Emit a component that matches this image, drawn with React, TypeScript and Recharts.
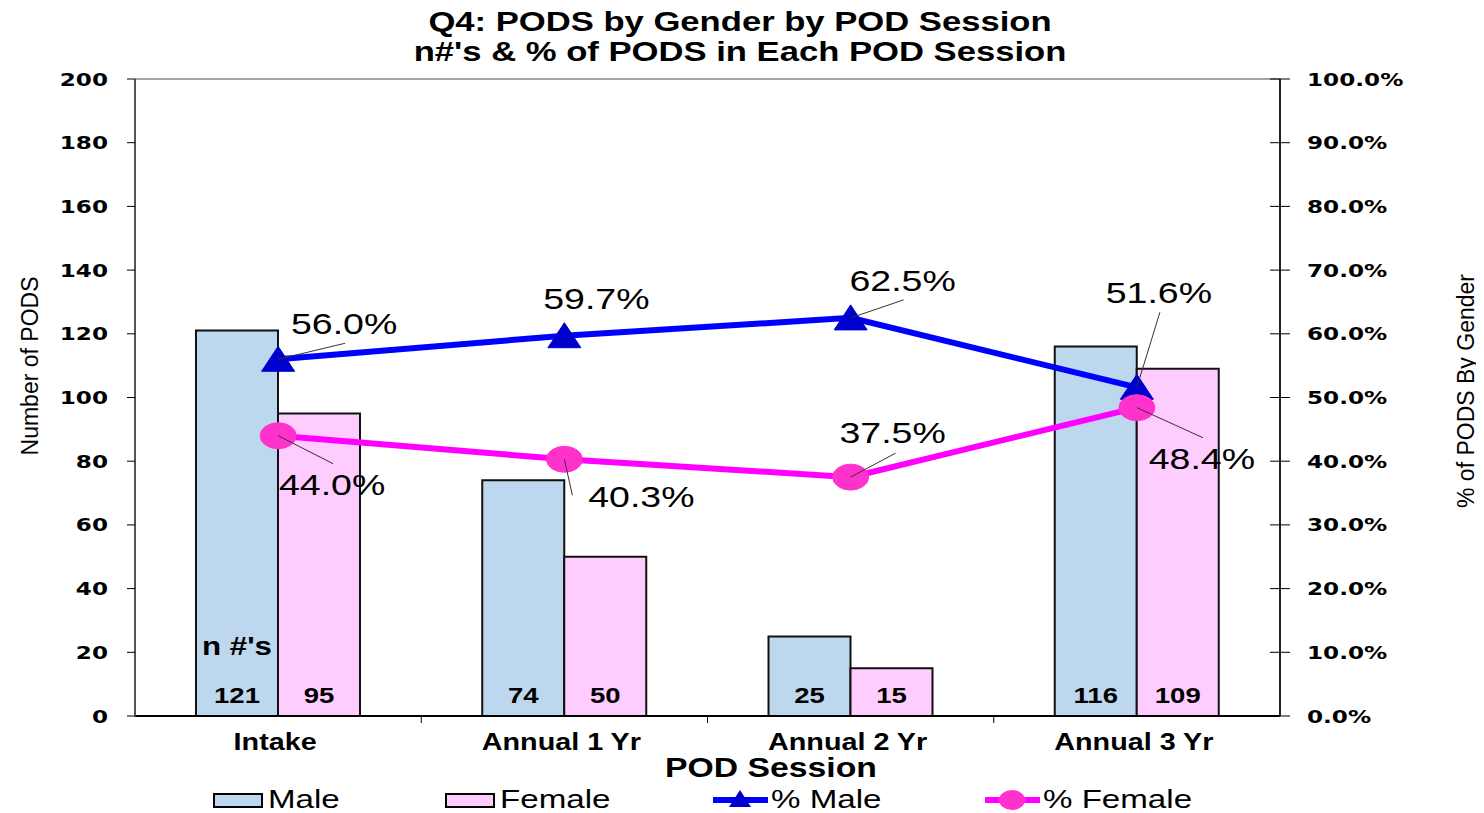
import React from 'react';
import { ComposedChart, Bar, Line, XAxis, YAxis, LabelList, ReferenceLine, Customized } from 'recharts';

const categories = ['Intake', 'Annual 1 Yr', 'Annual 2 Yr', 'Annual 3 Yr'];
const maleCounts = [121, 74, 25, 116];
const femaleCounts = [95, 50, 15, 109];
const malePct = [56.0, 59.7, 62.5, 51.6];
const femalePct = [44.0, 40.3, 37.5, 48.4];
const leftTicks = [0, 20, 40, 60, 80, 100, 120, 140, 160, 180, 200];
const rightTicks = [0, 10, 20, 30, 40, 50, 60, 70, 80, 90, 100];

const data = categories.map((c, i) => ({
  category: c,
  male: maleCounts[i],
  female: femaleCounts[i],
  malePct: malePct[i],
  femalePct: femalePct[i],
}));

// layout constants (page coordinates; the chart is placed at the page origin)
const W = 1484;
const H = 813;
const MARGIN = { top: 79, right: 54, bottom: 67, left: 35 };
const LEFT_W = 100;
const RIGHT_W = 150;
const X_H = 30;
const PLOT_W = W - MARGIN.left - MARGIN.right - LEFT_W - RIGHT_W;
const BAND = PLOT_W / categories.length;
const SX = 1.25;
const ARIAL = '"Liberation Sans", Arial, sans-serif';
const WIDE = '"DejaVu Sans", Verdana, sans-serif';

const MALE_FILL = '#BDD7EE';
const FEMALE_FILL = '#FFCCFF';
const MALE_LINE = '#0000FF';
const FEMALE_LINE = '#FF00FF';
const MALE_DOT = '#0000CC';
const FEMALE_DOT = '#FF33CC';

// label placement offsets relative to the point: [textDx, textDy, leaderDx, leaderDy]
const maleLabelOffsets: (number[])[] = [
  [66, -25, 67, -16],
  [32, -27, 0, 0],
  [52, -27, 53, -18],
  [22, -84, 23, -75],
];
const femaleLabelOffsets: (number[])[] = [
  [54, 59, 55, 28],
  [77, 48, 8, 36],
  [42, -34, 45, -24],
  [65, 61, 66, 30],
];

function SText(props: any) {
  const { x, y, anchor = 'middle', size, weight = 'normal', family = ARIAL, fill = '#000', children } = props;
  return (
    <text
      transform={`translate(${x},${y}) scale(${SX},1)`}
      textAnchor={anchor}
      fontSize={size}
      fontWeight={weight}
      fontFamily={family}
      fill={fill}
    >
      {children}
    </text>
  );
}

const LeftTick = (p: any) => (
  <SText x={p.x} y={p.y + 6.5} anchor="end" size={18.5} weight="bold" family={WIDE}>
    {p.payload.value}
  </SText>
);

const RightTick = (p: any) => {
  const axisX = p.x - 27;
  return (
    <g>
      <line x1={axisX - 10} x2={axisX + 10} y1={p.y} y2={p.y} stroke="#000" strokeWidth={1} />
      <SText x={p.x} y={p.y + 6.5} anchor="start" size={18.5} weight="bold" family={WIDE}>
        {`${Number(p.payload.value).toFixed(1)}%`}
      </SText>
    </g>
  );
};

const XTick = (p: any) => (
  <g>
    {p.index < categories.length - 1 && (
      <line x1={p.x + BAND / 2} x2={p.x + BAND / 2} y1={p.y} y2={p.y + 7} stroke="#000" strokeWidth={1} />
    )}
    <SText x={p.x - 3} y={p.y + 34} size={23} weight="bold">
      {p.payload.value}
    </SText>
  </g>
);

const makePctLabel = (offsets: number[][]) => (p: any) => {
  const { x, y, index, value } = p;
  const o = offsets[index];
  return (
    <g key={`lbl-${index}-${x}`}>
      {(o[2] !== 0 || o[3] !== 0) && (
        <line x1={x} y1={y} x2={x + o[2]} y2={y + o[3]} stroke="#333" strokeWidth={1} />
      )}
      <SText x={x + o[0]} y={y + o[1]} size={30}>
        {`${Number(value).toFixed(1)}%`}
      </SText>
    </g>
  );
};

const barCountLabel = (p: any) => {
  const { x, y, width, height, value } = p;
  return (
    <SText x={x + width / 2} y={y + height - 13} size={22} weight="bold">
      {value}
    </SText>
  );
};

// male bars: count label plus the "n #'s" caption above the first bar
const maleCountLabel = (p: any) => {
  const { x, y, width, height, index } = p;
  return (
    <g key={`mc-${index}`}>
      {barCountLabel(p)}
      {index === 0 && (
        <SText x={x + width / 2} y={y + height - 61} size={25} weight="bold">
          n #'s
        </SText>
      )}
    </g>
  );
};

const TriangleDot = (p: any) => {
  const { cx, cy, index } = p;
  return (
    <path
      key={`tri-${index}`}
      d={`M${cx},${cy - 13} L${cx + 16.5},${cy + 12} L${cx - 16.5},${cy + 12} Z`}
      fill={MALE_DOT}
      stroke={MALE_DOT}
    />
  );
};

const EllipseDot = (p: any) => {
  const { cx, cy, index } = p;
  return <ellipse key={`ell-${index}`} cx={cx} cy={cy} rx={18} ry={13} fill={FEMALE_DOT} stroke={FEMALE_DOT} />;
};

const Decorations = () => (
  <g>
    <SText x={740} y={31} size={27.7} weight="bold">Q4: PODS by Gender by POD Session</SText>
    <SText x={740} y={61} size={27.7} weight="bold">n#'s &amp; % of PODS in Each POD Session</SText>
    <text
      transform="translate(38,366) rotate(-90)"
      textAnchor="middle"
      fontSize={23}
      fontFamily={ARIAL}
      fill="#000"
    >
      Number of PODS
    </text>
    <text
      transform="translate(1474,391) rotate(-90)"
      textAnchor="middle"
      fontSize={23}
      fontFamily={ARIAL}
      fill="#000"
    >
      % of PODS By Gender
    </text>
    <SText x={771} y={777} size={27} weight="bold">POD Session</SText>
    {/* legend */}
    <rect x={214} y={794} width={48} height={13} fill={MALE_FILL} stroke="#000" strokeWidth={2} />
    <SText x={268} y={808} anchor="start" size={26.5}>Male</SText>
    <rect x={446} y={794} width={48} height={13} fill={FEMALE_FILL} stroke="#000" strokeWidth={2} />
    <SText x={500} y={808} anchor="start" size={26.5}>Female</SText>
    <line x1={713} x2={768} y1={800} y2={800} stroke={MALE_LINE} strokeWidth={6} />
    <path d="M740,790 L751,807 L729,807 Z" fill={MALE_DOT} />
    <SText x={771} y={808} anchor="start" size={26.5}>% Male</SText>
    <line x1={985} x2={1040} y1={800} y2={800} stroke={FEMALE_LINE} strokeWidth={6} />
    <ellipse cx={1012} cy={800} rx={13} ry={10} fill={FEMALE_DOT} />
    <SText x={1043} y={808} anchor="start" size={26.5}>% Female</SText>
  </g>
);

export default function App() {
  return (
    <div style={{ width: W, height: H, background: '#fff', marginTop: -8, marginLeft: -8 }}>
      <ComposedChart width={W} height={H} data={data} margin={MARGIN} barGap={0} barSize={82}>
        <XAxis
          dataKey="category"
          height={X_H}
          axisLine={{ stroke: '#000', strokeWidth: 2 }}
          tickLine={false}
          tickSize={0}
          tickMargin={0}
          tick={<XTick />}
          interval={0}
        />
        <YAxis
          yAxisId="left"
          orientation="left"
          width={LEFT_W}
          domain={[0, 200]}
          ticks={leftTicks}
          interval={0}
          axisLine={{ stroke: '#555', strokeWidth: 2 }}
          tickLine={{ stroke: '#000' }}
          tickSize={8}
          tickMargin={19}
          tick={<LeftTick />}
        />
        <YAxis
          yAxisId="right"
          orientation="right"
          width={RIGHT_W}
          domain={[0, 100]}
          ticks={rightTicks}
          interval={0}
          axisLine={{ stroke: '#222', strokeWidth: 2 }}
          tickLine={false}
          tickSize={10}
          tickMargin={17}
          tick={<RightTick />}
        />
        <ReferenceLine yAxisId="left" y={200} stroke="#888" strokeWidth={1.5} />
        <Bar yAxisId="left" dataKey="male" fill={MALE_FILL} stroke="#111" strokeWidth={2} isAnimationActive={false}>
          <LabelList dataKey="male" content={maleCountLabel} />
        </Bar>
        <Bar yAxisId="left" dataKey="female" fill={FEMALE_FILL} stroke="#111" strokeWidth={2} isAnimationActive={false}>
          <LabelList dataKey="female" content={barCountLabel} />
        </Bar>
        <Line
          yAxisId="right"
          type="linear"
          dataKey="malePct"
          stroke={MALE_LINE}
          strokeWidth={6}
          dot={TriangleDot}
          activeDot={false}
          isAnimationActive={false}
        >
          <LabelList dataKey="malePct" content={makePctLabel(maleLabelOffsets)} />
        </Line>
        <Line
          yAxisId="right"
          type="linear"
          dataKey="femalePct"
          stroke={FEMALE_LINE}
          strokeWidth={6}
          dot={EllipseDot}
          activeDot={false}
          isAnimationActive={false}
        >
          <LabelList dataKey="femalePct" content={makePctLabel(femaleLabelOffsets)} />
        </Line>
        <Customized component={Decorations} />
      </ComposedChart>
    </div>
  );
}
